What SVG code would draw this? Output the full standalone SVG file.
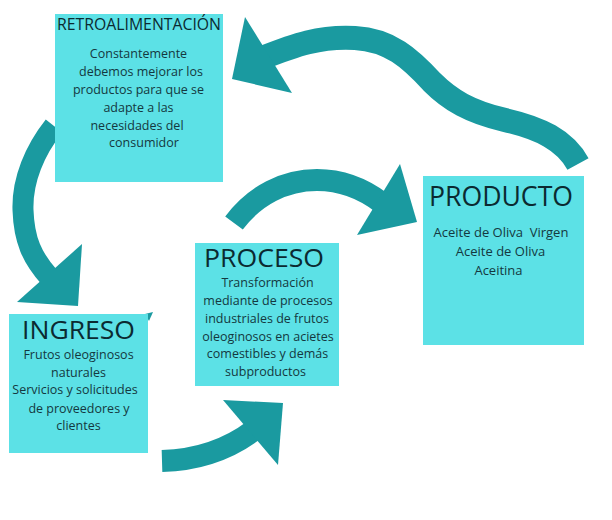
<svg xmlns="http://www.w3.org/2000/svg" width="612" height="520" viewBox="0 0 612 520">
<style>
.band{fill:none;stroke:#1a9aa0;stroke-linecap:butt}
.head{fill:#1a9aa0}
.box{fill:#5ce1e6}
.title{font-family:"Open Sans","DejaVu Sans",sans-serif;fill:#0b2a31;text-anchor:middle}
.body{font-family:"Open Sans","DejaVu Sans",sans-serif;font-size:12.5px;fill:#143840;text-anchor:middle}
.big{font-size:13px}
</style>
<rect width="612" height="520" fill="#ffffff"/>
<g id="connectors">
<path class="band" stroke-width="24" d="M578,164 C565,140 540,128 505,120 C470,112 450,100 432,82 C410,58 390,40 355,38 C320,36 295,45 262,58"/>
<polygon class="head" points="245,17 232,79 292,93"/>
<path class="band" stroke-width="21" d="M54,126 C35,150 22,180 23,210 C24,240 32,258 50,278"/>
<polygon class="head" points="82,244 78,306 17,302"/>
<path class="band" stroke-width="22" d="M234,223 C255,195 285,180 317,180 C345,180 365,190 382,203"/>
<polygon class="head" points="400,164 417,222 357,235"/>
<path class="band" stroke-width="22" d="M162,461 C195,460 225,452 254,430"/>
<polygon class="head" points="223,400 283,403 278,465"/>
<polygon class="head" points="145,314 153,312 149,321"/>
</g>
<g id="retroalimentacion">
<rect class="box" x="55" y="14" width="168" height="168"/>
<text class="title" x="139" y="30" font-size="16" textLength="164" lengthAdjust="spacingAndGlyphs">RETROALIMENTACIÓN</text>
<text class="body" x="138.5" y="58">Constantemente</text>
<text class="body" x="141" y="76">debemos mejorar los</text>
<text class="body" x="138.5" y="94">productos para que se</text>
<text class="body" x="138.5" y="112">adapte a las</text>
<text class="body" x="137" y="130">necesidades del</text>
<text class="body" x="144" y="147">consumidor</text>
</g>
<g id="producto">
<rect class="box" x="423" y="176" width="161" height="169"/>
<text class="title" x="501" y="206" font-size="27" textLength="144" lengthAdjust="spacingAndGlyphs">PRODUCTO</text>
<text class="body big" x="501" y="237" xml:space="preserve">Aceite de Oliva  Virgen</text>
<text class="body big" x="500.5" y="256">Aceite de Oliva</text>
<text class="body big" x="498.5" y="275">Aceitina</text>
</g>
<g id="proceso">
<rect class="box" x="195" y="243" width="144" height="143"/>
<text class="title" x="264" y="266.5" font-size="26" textLength="120" lengthAdjust="spacingAndGlyphs">PROCESO</text>
<text class="body" x="267.5" y="287">Transformación</text>
<text class="body" x="268" y="305">mediante de procesos</text>
<text class="body" x="267" y="323">industriales de frutos</text>
<text class="body" x="268" y="341">oleoginosos en acietes</text>
<text class="body" x="267.5" y="358">comestibles y demás</text>
<text class="body" x="265.5" y="376">subproductos</text>
</g>
<g id="ingreso">
<rect class="box" x="9" y="314" width="139" height="139"/>
<text class="title" x="78.5" y="338.5" font-size="26" textLength="113" lengthAdjust="spacingAndGlyphs">INGRESO</text>
<text class="body" x="78.5" y="359">Frutos oleoginosos</text>
<text class="body" x="78.5" y="377">naturales</text>
<text class="body" x="75" y="394">Servicios y solicitudes</text>
<text class="body" x="79" y="413">de proveedores y</text>
<text class="body" x="78.5" y="430">clientes</text>
</g>
</svg>
